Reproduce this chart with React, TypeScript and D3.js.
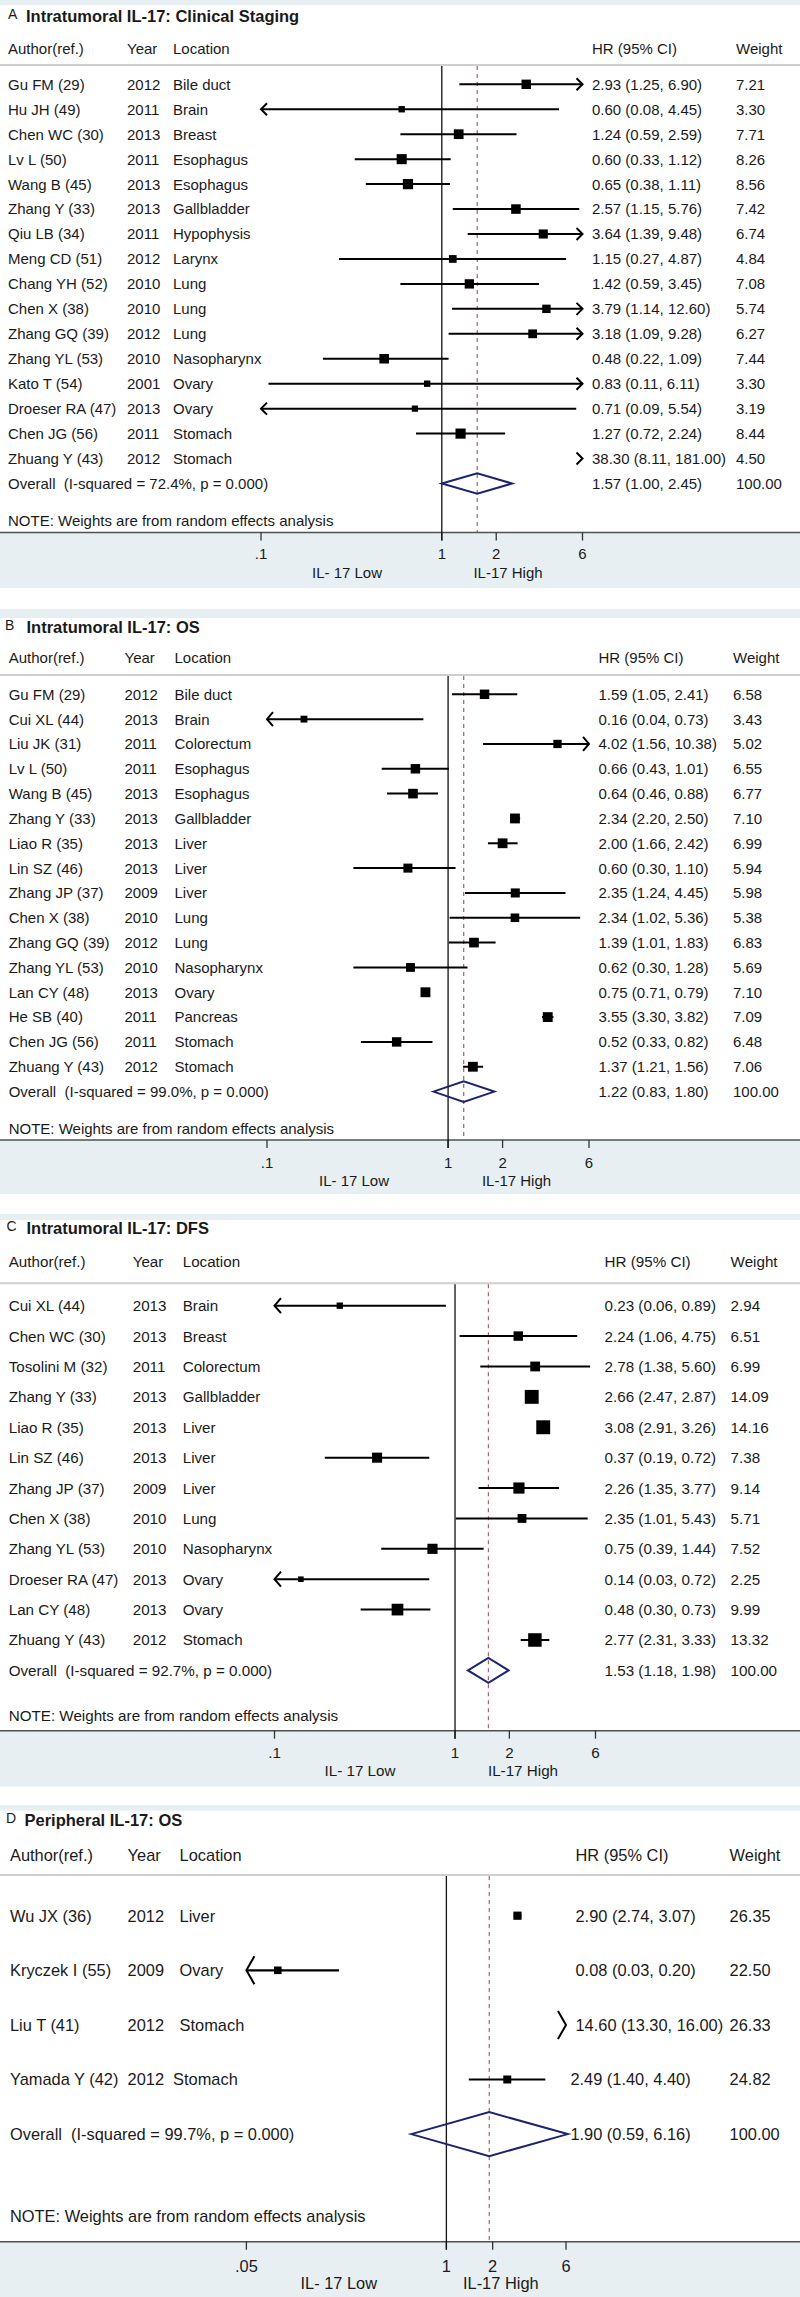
import React from "react";
import * as d3 from "d3";

// ---------- Panel A: Intratumoral IL-17: Clinical Staging ----------
const authorsA = ["Gu FM (29)", "Hu JH (49)", "Chen WC (30)", "Lv L (50)", "Wang B (45)", "Zhang Y (33)", "Qiu LB (34)", "Meng CD (51)", "Chang YH (52)", "Chen X (38)", "Zhang GQ (39)", "Zhang YL (53)", "Kato T (54)", "Droeser RA (47)", "Chen JG (56)", "Zhuang Y (43)"];
const yearsA = ["2012", "2011", "2013", "2011", "2013", "2013", "2011", "2012", "2010", "2010", "2012", "2010", "2001", "2013", "2011", "2012"];
const locationsA = ["Bile duct", "Brain", "Breast", "Esophagus", "Esophagus", "Gallbladder", "Hypophysis", "Larynx", "Lung", "Lung", "Lung", "Nasopharynx", "Ovary", "Ovary", "Stomach", "Stomach"];
const hrA = [2.93, 0.6, 1.24, 0.6, 0.65, 2.57, 3.64, 1.15, 1.42, 3.79, 3.18, 0.48, 0.83, 0.71, 1.27, 38.3];
const lowerA = [1.25, 0.08, 0.59, 0.33, 0.38, 1.15, 1.39, 0.27, 0.59, 1.14, 1.09, 0.22, 0.11, 0.09, 0.72, 8.11];
const upperA = [6.9, 4.45, 2.59, 1.12, 1.11, 5.76, 9.48, 4.87, 3.45, 12.6, 9.28, 1.09, 6.11, 5.54, 2.24, 181.0];
const weightsA = [7.21, 3.3, 7.71, 8.26, 8.56, 7.42, 6.74, 4.84, 7.08, 5.74, 6.27, 7.44, 3.3, 3.19, 8.44, 4.5];
const overallA = [1.57, 1.0, 2.45];
const i2A = "72.4%";

// ---------- Panel B: Intratumoral IL-17: OS ----------
const authorsB = ["Gu FM (29)", "Cui XL (44)", "Liu JK (31)", "Lv L (50)", "Wang B (45)", "Zhang Y (33)", "Liao R (35)", "Lin SZ (46)", "Zhang JP (37)", "Chen X (38)", "Zhang GQ (39)", "Zhang YL (53)", "Lan CY (48)", "He SB (40)", "Chen JG (56)", "Zhuang Y (43)"];
const yearsB = ["2012", "2013", "2011", "2011", "2013", "2013", "2013", "2013", "2009", "2010", "2012", "2010", "2013", "2011", "2011", "2012"];
const locationsB = ["Bile duct", "Brain", "Colorectum", "Esophagus", "Esophagus", "Gallbladder", "Liver", "Liver", "Liver", "Lung", "Lung", "Nasopharynx", "Ovary", "Pancreas", "Stomach", "Stomach"];
const hrB = [1.59, 0.16, 4.02, 0.66, 0.64, 2.34, 2.0, 0.6, 2.35, 2.34, 1.39, 0.62, 0.75, 3.55, 0.52, 1.37];
const lowerB = [1.05, 0.04, 1.56, 0.43, 0.46, 2.2, 1.66, 0.3, 1.24, 1.02, 1.01, 0.3, 0.71, 3.3, 0.33, 1.21];
const upperB = [2.41, 0.73, 10.38, 1.01, 0.88, 2.5, 2.42, 1.1, 4.45, 5.36, 1.83, 1.28, 0.79, 3.82, 0.82, 1.56];
const weightsB = [6.58, 3.43, 5.02, 6.55, 6.77, 7.1, 6.99, 5.94, 5.98, 5.38, 6.83, 5.69, 7.1, 7.09, 6.48, 7.06];
const overallB = [1.22, 0.83, 1.8];
const i2B = "99.0%";

// ---------- Panel C: Intratumoral IL-17: DFS ----------
const authorsC = ["Cui XL (44)", "Chen WC (30)", "Tosolini M (32)", "Zhang Y (33)", "Liao R (35)", "Lin SZ (46)", "Zhang JP (37)", "Chen X (38)", "Zhang YL (53)", "Droeser RA (47)", "Lan CY (48)", "Zhuang Y (43)"];
const yearsC = ["2013", "2013", "2011", "2013", "2013", "2013", "2009", "2010", "2010", "2013", "2013", "2012"];
const locationsC = ["Brain", "Breast", "Colorectum", "Gallbladder", "Liver", "Liver", "Liver", "Lung", "Nasopharynx", "Ovary", "Ovary", "Stomach"];
const hrC = [0.23, 2.24, 2.78, 2.66, 3.08, 0.37, 2.26, 2.35, 0.75, 0.14, 0.48, 2.77];
const lowerC = [0.06, 1.06, 1.38, 2.47, 2.91, 0.19, 1.35, 1.01, 0.39, 0.03, 0.3, 2.31];
const upperC = [0.89, 4.75, 5.6, 2.87, 3.26, 0.72, 3.77, 5.43, 1.44, 0.72, 0.73, 3.33];
const weightsC = [2.94, 6.51, 6.99, 14.09, 14.16, 7.38, 9.14, 5.71, 7.52, 2.25, 9.99, 13.32];
const overallC = [1.53, 1.18, 1.98];
const i2C = "92.7%";

// ---------- Panel D: Peripheral IL-17: OS ----------
const authorsD = ["Wu JX (36)", "Kryczek I (55)", "Liu T (41)", "Yamada Y (42)"];
const yearsD = ["2012", "2009", "2012", "2012"];
const locationsD = ["Liver", "Ovary", "Stomach", "Stomach"];
const hrD = [2.9, 0.08, 14.6, 2.49];
const lowerD = [2.74, 0.03, 13.3, 1.4];
const upperD = [3.07, 0.2, 16.0, 4.4];
const weightsD = [26.35, 22.5, 26.33, 24.82];
const overallD = [1.9, 0.59, 6.16];
const i2D = "99.7%";

const ticksABC = [0.1, 1, 2, 6];
const tickLabelsABC = [".1", "1", "2", "6"];
const ticksD = [0.05, 1, 2, 6];
const tickLabelsD = [".05", "1", "2", "6"];

const FONT = "'Liberation Sans', Arial, Helvetica, sans-serif";
const BAND = "#e7eff2";
const TEXT = "#1a1a1a";
const NAVY = "#1c2370";
const DASH = "#a3505c";
const GAP2 = " \u00A0"; // two visible spaces

type RowOverride = { row: number; inline: boolean; hrX: number };

type Layout = {
  letter: string; title: string;
  top: number; bandTopEnd: number; letterX: number; titleX: number; titleY: number;
  headerY: number; lineY: number; firstRowY: number; rowStep: number;
  noteY: number; axisY: number; tickLabelY: number; lowHighY: number; bandEnd: number;
  cols: number[]; fs: number; xRange: [number, number]; lowX: number; highX: number;
  boxK: number; arrowH: number; arrowW: number; diamondH: number; ciW: number;
  overallHrX?: number; overrides?: RowOverride[];
};

const layoutA: Layout = {
  letter: "A", title: "Intratumoral IL-17: Clinical Staging",
  top: 0, bandTopEnd: 5, letterX: 8, titleX: 26, titleY: 16,
  headerY: 49, lineY: 65, firstRowY: 84.3, rowStep: 24.95,
  noteY: 520.7, axisY: 532.5, tickLabelY: 554, lowHighY: 573, bandEnd: 588,
  cols: [8, 127, 173, 592, 736], fs: 15, xRange: [261, 582.5], lowX: 347, highX: 508,
  boxK: 3.5, arrowH: 6, arrowW: 6, diamondH: 10.3, ciW: 2,
};
const layoutB: Layout = {
  letter: "B", title: "Intratumoral IL-17: OS",
  top: 609, bandTopEnd: 618, letterX: 5, titleX: 26.5, titleY: 627,
  headerY: 658, lineY: 675, firstRowY: 694.3, rowStep: 24.83,
  noteY: 1128.3, axisY: 1140, tickLabelY: 1163, lowHighY: 1181, bandEnd: 1194,
  cols: [8.7, 124.5, 174.5, 598.5, 733], fs: 15, xRange: [267, 589], lowX: 354, highX: 516.5,
  boxK: 3.7, arrowH: 7, arrowW: 6, diamondH: 10.3, ciW: 2,
};
const layoutC: Layout = {
  letter: "C", title: "Intratumoral IL-17: DFS",
  top: 1214, bandTopEnd: 1220, letterX: 6.6, titleX: 26.5, titleY: 1228.3,
  headerY: 1261.7, lineY: 1283.3, firstRowY: 1305.7, rowStep: 30.39,
  noteY: 1716, axisY: 1730.7, tickLabelY: 1752.7, lowHighY: 1771, bandEnd: 1786.7,
  cols: [8.7, 132.7, 182.7, 604.6, 730.6], fs: 15.2, xRange: [274.5, 595.5], lowX: 360, highX: 523,
  boxK: 3.7, arrowH: 7.5, arrowW: 6.5, diamondH: 12.5, ciW: 2,
};
const layoutD: Layout = {
  letter: "D", title: "Peripheral IL-17: OS",
  top: 1805, bandTopEnd: 1810.7, letterX: 6, titleX: 24.5, titleY: 1820,
  headerY: 1855, lineY: 1875, firstRowY: 1915.7, rowStep: 54.6,
  noteY: 2216, axisY: 2241.7, tickLabelY: 2265.7, lowHighY: 2283.3, bandEnd: 2297,
  cols: [10, 127.6, 179.6, 575.5, 729.6], fs: 16.4, xRange: [246.4, 566], lowX: 338.8, highX: 500.8,
  boxK: 1.6, arrowH: 14, arrowW: 8, diamondH: 22, ciW: 2.2,
  overallHrX: 570.4,
  overrides: [{ row: 3, inline: true, hrX: 570.4 }],
};

type PanelProps = {
  authors: string[]; years: string[]; locations: string[];
  hr: number[]; lower: number[]; upper: number[]; weights: number[];
  overall: number[]; i2: string; ticks: number[]; tickLabels: string[]; L: Layout;
};

const fmt = (v: number) => v.toFixed(2);

function Panel({ authors, years, locations, hr, lower, upper, weights, overall, i2, ticks, tickLabels, L }: PanelProps) {
  const x = d3.scaleLog().domain([ticks[0], ticks[ticks.length - 1]]).range(L.xRange);
  const n = authors.length;
  const y = d3.scaleLinear().domain([0, n]).range([L.firstRowY, L.firstRowY + n * L.rowStep]);
  const [xMin, xMax] = x.domain();
  const textProps = { fontFamily: FONT, fontSize: L.fs, fill: TEXT };
  const dy = "0.36em";
  const [c0, c1, c2, c3, c4] = L.cols;
  const oy = y(n);

  return (
    <g>
      <rect x={0} y={L.top} width={800} height={L.bandTopEnd - L.top} fill={BAND} />
      <text x={L.letterX} y={L.titleY + 3} fontFamily={FONT} fontSize={14} fill={TEXT}>{L.letter}</text>
      <text x={L.titleX} y={L.titleY} dy={dy} fontFamily={FONT} fontSize={16.5} fontWeight="bold" fill={TEXT}>{L.title}</text>

      {/* header */}
      <text x={c0} y={L.headerY} dy={dy} {...textProps}>Author(ref.)</text>
      <text x={c1} y={L.headerY} dy={dy} {...textProps}>Year</text>
      <text x={c2} y={L.headerY} dy={dy} {...textProps}>Location</text>
      <text x={c3} y={L.headerY} dy={dy} {...textProps}>HR (95% CI)</text>
      <text x={c4} y={L.headerY} dy={dy} {...textProps}>Weight</text>
      <line x1={0} x2={800} y1={L.lineY} y2={L.lineY} stroke="#cfcfcf" strokeWidth={2} />

      {/* bottom band + axis */}
      <rect x={0} y={L.axisY} width={800} height={L.bandEnd - L.axisY} fill={BAND} />
      <line x1={0} x2={800} y1={L.axisY} y2={L.axisY} stroke="#505050" strokeWidth={1.5} />
      {ticks.map((t, i) => (
        <g key={"t" + i}>
          <line x1={x(t)} x2={x(t)} y1={L.axisY} y2={L.axisY + 8} stroke="#333" strokeWidth={1.3} />
          <text x={x(t)} y={L.tickLabelY} dy={dy} textAnchor="middle" {...textProps}>{tickLabels[i]}</text>
        </g>
      ))}
      <text x={L.lowX} y={L.lowHighY} dy={dy} textAnchor="middle" {...textProps}>IL- 17 Low</text>
      <text x={L.highX} y={L.lowHighY} dy={dy} textAnchor="middle" {...textProps}>IL-17 High</text>

      {/* reference lines */}
      <line x1={x(1)} x2={x(1)} y1={L.lineY + 1} y2={L.axisY + 8} stroke="#111" strokeWidth={1.3} />
      <line x1={x(overall[0])} x2={x(overall[0])} y1={L.lineY + 1} y2={L.axisY} stroke={DASH} strokeWidth={1.1} strokeDasharray="4,4" />

      {/* studies */}
      {authors.map((a, i) => {
        const yy = y(i);
        const lo = lower[i], hi = upper[i], h = hr[i];
        const side = L.boxK * Math.sqrt(weights[i]);
        const hasLine = hi > xMin && lo < xMax;
        const x1 = x(Math.max(lo, xMin));
        const x2 = x(Math.min(hi, xMax));
        const tipL = x(xMin), tipR = x(xMax);
        const ov = (L.overrides || []).find((o) => o.row === i);
        return (
          <g key={"r" + i}>
            {ov && ov.inline ? (
              <text x={c0} y={yy} dy={dy} {...textProps}>{`${a}${GAP2}${years[i]}${GAP2}${locations[i]}`}</text>
            ) : (
              <>
                <text x={c0} y={yy} dy={dy} {...textProps}>{a}</text>
                <text x={c1} y={yy} dy={dy} {...textProps}>{years[i]}</text>
                <text x={c2} y={yy} dy={dy} {...textProps}>{locations[i]}</text>
              </>
            )}
            <text x={ov ? ov.hrX : c3} y={yy} dy={dy} {...textProps}>{`${fmt(h)} (${fmt(lo)}, ${fmt(hi)})`}</text>
            <text x={c4} y={yy} dy={dy} {...textProps}>{fmt(weights[i])}</text>
            {hasLine && <line x1={x1} x2={x2} y1={yy} y2={yy} stroke="#000" strokeWidth={L.ciW} />}
            {lo < xMin && (
              <path d={`M${tipL + L.arrowW},${yy - L.arrowH} L${tipL},${yy} L${tipL + L.arrowW},${yy + L.arrowH}`} fill="none" stroke="#000" strokeWidth={2} />
            )}
            {hi > xMax && (
              <path d={`M${tipR - L.arrowW},${yy - L.arrowH} L${tipR},${yy} L${tipR - L.arrowW},${yy + L.arrowH}`} fill="none" stroke="#000" strokeWidth={2} />
            )}
            {h >= xMin && h <= xMax && (
              <rect x={x(h) - side / 2} y={yy - side / 2} width={side} height={side} fill="#000" />
            )}
          </g>
        );
      })}

      {/* overall */}
      <text x={c0} y={oy} dy={dy} {...textProps}>{`Overall${GAP2}(I-squared = ${i2}, p = 0.000)`}</text>
      <text x={L.overallHrX ?? c3} y={oy} dy={dy} {...textProps}>{`${fmt(overall[0])} (${fmt(overall[1])}, ${fmt(overall[2])})`}</text>
      <text x={c4} y={oy} dy={dy} {...textProps}>100.00</text>
      <polygon
        points={`${x(overall[1])},${oy} ${x(overall[0])},${oy - L.diamondH} ${x(overall[2])},${oy} ${x(overall[0])},${oy + L.diamondH}`}
        fill="none" stroke={NAVY} strokeWidth={2} />

      <text x={c0} y={L.noteY} dy={dy} {...textProps}>NOTE: Weights are from random effects analysis</text>
    </g>
  );
}

export default function App() {
  return (
    <svg width={800} height={2297} style={{ position: "absolute", left: 0, top: 0, display: "block", background: "#fff" }}>
      <rect x={0} y={0} width={800} height={2297} fill="#fff" />
      <Panel authors={authorsA} years={yearsA} locations={locationsA} hr={hrA} lower={lowerA} upper={upperA} weights={weightsA} overall={overallA} i2={i2A} ticks={ticksABC} tickLabels={tickLabelsABC} L={layoutA} />
      <Panel authors={authorsB} years={yearsB} locations={locationsB} hr={hrB} lower={lowerB} upper={upperB} weights={weightsB} overall={overallB} i2={i2B} ticks={ticksABC} tickLabels={tickLabelsABC} L={layoutB} />
      <Panel authors={authorsC} years={yearsC} locations={locationsC} hr={hrC} lower={lowerC} upper={upperC} weights={weightsC} overall={overallC} i2={i2C} ticks={ticksABC} tickLabels={tickLabelsABC} L={layoutC} />
      <Panel authors={authorsD} years={yearsD} locations={locationsD} hr={hrD} lower={lowerD} upper={upperD} weights={weightsD} overall={overallD} i2={i2D} ticks={ticksD} tickLabels={tickLabelsD} L={layoutD} />
    </svg>
  );
}
